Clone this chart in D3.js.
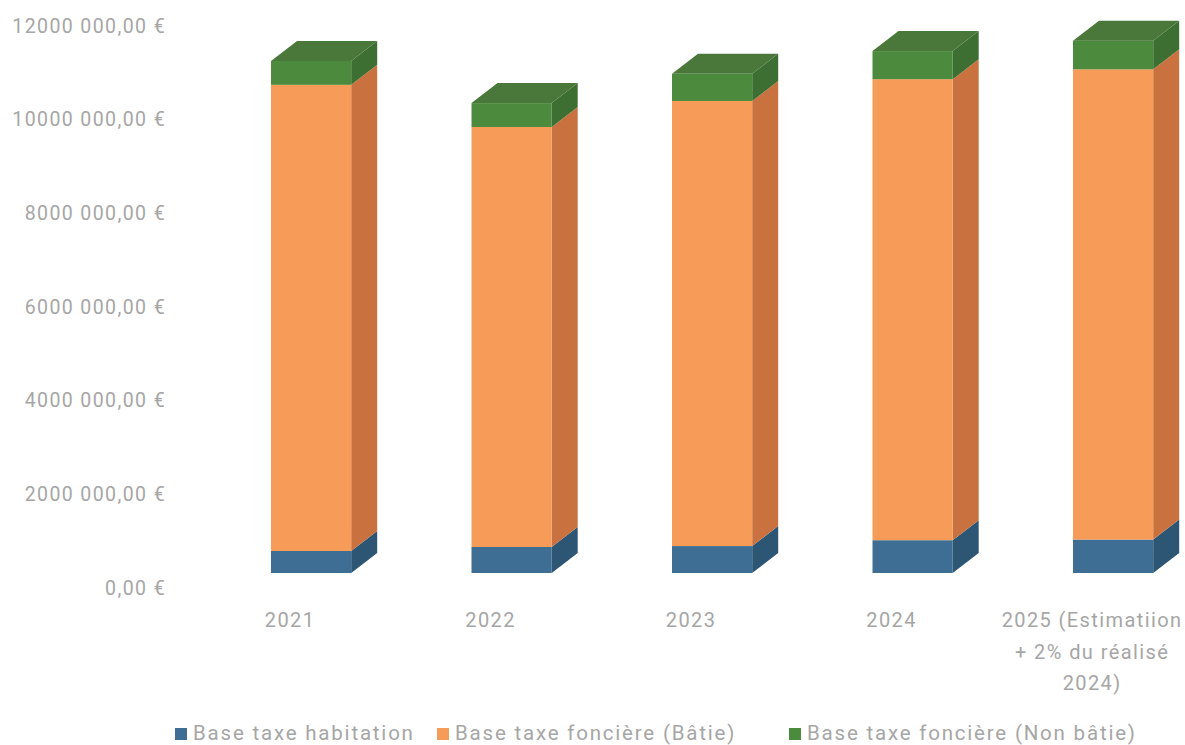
<!DOCTYPE html>
<html>
<head>
<meta charset="utf-8">
<script src="https://cdn.jsdelivr.net/npm/d3@7"></script>
<style>
  html, body { margin: 0; padding: 0; background: #ffffff; }
  svg { display: block; font-family: Roboto, "Noto Sans", sans-serif; }
</style>
</head>
<body>
<svg id="chart" width="1185" height="745"></svg>
<script>
// Tax bases per year (euros)
const categories = ["2021", "2022", "2023", "2024", "2025 (Estimatiion + 2% du réalisé 2024)"];
const categoryLines = [["2021"], ["2022"], ["2023"], ["2024"], ["2025 (Estimatiion", "+ 2% du réalisé", "2024)"]];
const seriesNames = ["Base taxe habitation", "Base taxe foncière (Bâtie)", "Base taxe foncière (Non bâtie)"];
const habitation = [470000, 555000, 575000, 700000, 714000];
const fonciereBatie = [9950000, 8965000, 9500000, 9840000, 10037000];
const fonciereNonBatie = [510000, 510000, 580000, 600000, 612000];
const yTicks = [0, 2000000, 4000000, 6000000, 8000000, 10000000, 12000000];

// Face colours: front, side, top
const palette = [
  { front: "#3e6e93", side: "#2d5574", top: "#335f80", legend: "#3e6e93" },
  { front: "#f79b58", side: "#c9713f", top: "#e08648", legend: "#f79b58" },
  { front: "#4c8b3d", side: "#3d6e32", top: "#4a783a", legend: "#4c8b3d" }
];

const svg = d3.select("#chart");
const depthX = 26, depthY = -20;
const textColor = "#a6a6a6";

const y = d3.scaleLinear().domain([0, 12000000]).range([573, 10.8]);
const x = d3.scaleBand().domain(categories).range([210.85, 1213.35]).paddingInner(0.6).paddingOuter(0.3);

// Stack the three series
const rows = categories.map((c, i) => ({ cat: c, s0: habitation[i], s1: fonciereBatie[i], s2: fonciereNonBatie[i] }));
const stacked = d3.stack().keys(["s0", "s1", "s2"])(rows);

// Y axis labels (French currency format)
const fmt = v => {
  const [ip, dp] = v.toFixed(2).split(".");
  let s = ip;
  if (ip.length > 3) s = ip.slice(0, ip.length - 3) + " " + ip.slice(ip.length - 3);
  return s + "," + dp + " €";
};
const yAxis = d3.axisLeft(y).tickValues(yTicks).tickFormat(fmt).tickSize(0).tickPadding(0);
const gy = svg.append("g").attr("transform", "translate(166,15)").call(yAxis);
gy.select(".domain").remove();
gy.selectAll("text")
  .attr("fill", textColor)
  .attr("font-size", "19.5px")
  .attr("letter-spacing", "1.4px")
  .attr("font-family", "Roboto, sans-serif");

// Bars drawn as 3D blocks
const bars = svg.append("g");
categories.forEach((c, i) => {
  const bx = x(c), bw = x.bandwidth();
  stacked.forEach((layer, k) => {
    const d = layer[i];
    const yTop = y(d[1]), yBot = y(d[0]);
    const col = palette[k];
    const g = bars.append("g");
    // side face
    g.append("polygon")
      .attr("points", [
        [bx + bw, yBot], [bx + bw + depthX, yBot + depthY],
        [bx + bw + depthX, yTop + depthY], [bx + bw, yTop]
      ].map(p => p.join(",")).join(" "))
      .attr("fill", col.side);
    // front face
    g.append("rect")
      .attr("x", bx).attr("y", yTop)
      .attr("width", bw).attr("height", yBot - yTop)
      .attr("fill", col.front);
    // top face on the highest block only
    if (k === stacked.length - 1) {
      g.append("polygon")
        .attr("points", [
          [bx, yTop], [bx + depthX, yTop + depthY],
          [bx + bw + depthX, yTop + depthY], [bx + bw, yTop]
        ].map(p => p.join(",")).join(" "))
        .attr("fill", col.top);
    }
  });
});

// Category labels
const catG = svg.append("g");
categories.forEach((c, i) => {
  const cx = x(c) + x.bandwidth() / 2 - 21;
  const t = catG.append("text")
    .attr("text-anchor", "middle")
    .attr("fill", textColor)
    .attr("font-size", "20px")
    .attr("letter-spacing", "1.4px");
  categoryLines[i].forEach((line, j) => {
    t.append("tspan").attr("x", cx).attr("y", 627 + j * 31.5).text(line);
  });
});

// Legend
const legendX = [175, 437, 789];
const legend = svg.append("g");
seriesNames.forEach((name, k) => {
  legend.append("rect")
    .attr("x", legendX[k]).attr("y", 728)
    .attr("width", 12).attr("height", 12)
    .attr("fill", palette[k].legend);
  legend.append("text")
    .attr("x", legendX[k] + 18).attr("y", 740)
    .attr("fill", textColor)
    .attr("font-size", "20.5px")
    .attr("letter-spacing", "1.8px")
    .text(name);
});
</script>
</body>
</html>
